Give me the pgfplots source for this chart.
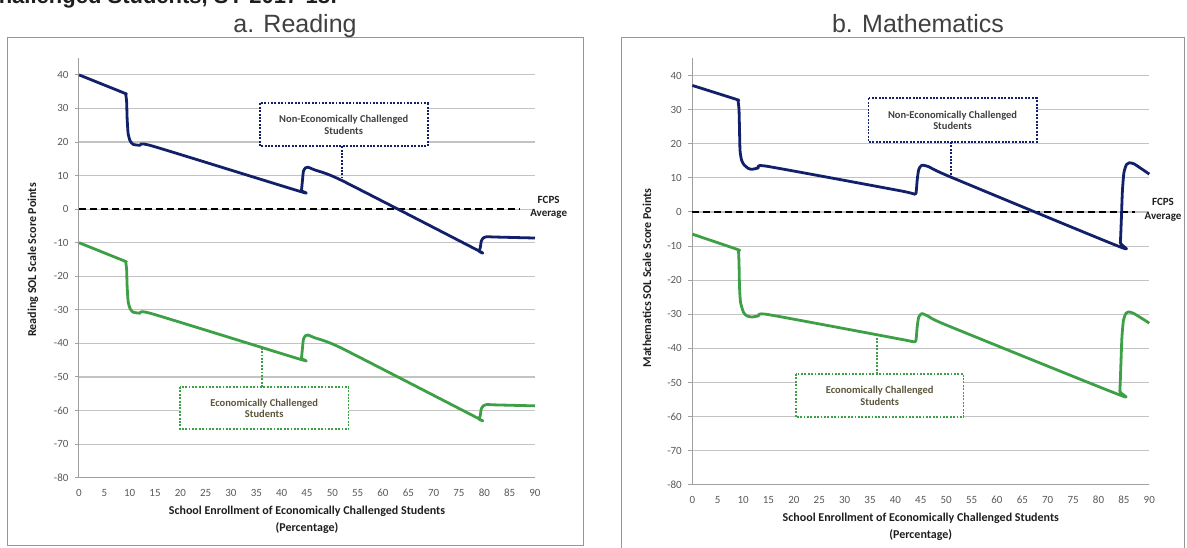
\documentclass[border=0pt]{standalone}
\usepackage{pgfplots}
\pgfplotsset{compat=1.18}
\usepackage{fontspec}
\setmainfont{Carlito}
\newfontfamily\arialf{Liberation Sans}
\definecolor{navyline}{RGB}{18,32,106}
\definecolor{greenline}{RGB}{62,160,70}
\definecolor{tickgray}{RGB}{89,89,89}
\definecolor{gridgray}{RGB}{195,195,195}
\definecolor{axgray}{RGB}{160,160,160}
\definecolor{labdark}{RGB}{30,30,30}
\definecolor{boxtext}{RGB}{64,64,64}
\definecolor{olivetext}{RGB}{92,86,60}
\definecolor{titlegray}{RGB}{64,64,64}
\definecolor{framegray}{RGB}{150,150,150}

\tikzset{dotbox/.style={line width=1.9pt, dash pattern=on 1.9pt off 1.5pt}}

\pgfplotsset{
  panel/.style={
    scale only axis,
    xmin=0, xmax=90, ymin=-80, ymax=45,
    xtick={0,5,...,90},
    ytick={-80,-70,...,40},
    axis x line*=bottom, axis y line*=left,
    axis line style={draw=axgray, line width=1pt},
    ymajorgrids, grid style={draw=gridgray, line width=1.1pt},
    tick align=outside, major tick length=4pt,
    ytick style={draw=axgray, line width=1pt},
    xtick style={draw=none},
    tick label style={font=\fontsize{11}{13}\selectfont, text=tickgray},
    /pgf/number format/assume math mode=true,
    yticklabel style={xshift=-3pt},
    xticklabel style={yshift=-4pt},
    xlabel style={at={(axis description cs:0.5,0)}, anchor=north, yshift=-25pt, align=center,
      font=\fontsize{12}{17}\selectfont\bfseries, text=labdark},
    ylabel style={font=\fontsize{12}{14}\selectfont\bfseries, text=labdark, anchor=center},
    clip=false,
  },
  navyc/.style={color=navyline, line width=2.8pt, smooth, tension=0.35, line join=round, no markers},
  greenc/.style={color=greenline, line width=2.8pt, smooth, tension=0.35, line join=round, no markers},
  zeroline/.style={color=black, line width=2pt, dash pattern=on 7pt off 4pt, no markers},
}

\begin{document}
\begin{tikzpicture}[x=1pt,y=1pt]
\useasboundingbox (0,0) rectangle (1187,548);

% panel frames
\draw[framegray, line width=1pt] (7.3,510) rectangle (583,2);
\draw[framegray, line width=1pt] (621.7,510.3) rectangle (1184.5,-5);

% titles
\node[anchor=base east, font=\arialf\bfseries\fontsize{22}{24}\selectfont, text=labdark] at (341,544) {Challenged Students, SY 2017-18:};
\node[anchor=base, font=\arialf\fontsize{25}{28}\selectfont, text=titlegray] at (295,515) {a. Reading};
\node[anchor=base, font=\arialf\fontsize{25}{28}\selectfont, text=titlegray] at (918,515) {b. Mathematics};

% ---------------- a. Reading ----------------
\begin{axis}[panel, at={(79pt,70.3pt)}, anchor=south west, width=456pt, height=419.6pt,
  xlabel={School Enrollment of Economically Challenged Students\\(Percentage)},
  ylabel={Reading SOL Scale Score Points},
  ylabel style={at={(axis description cs:-0.101,0.519)}},
]
\addplot[zeroline] coordinates {(0,0) (87,0)};
\addplot[navyc] coordinates {
(0,40) (8.9,34.6) (9.2,34.3) (9.4,32) (9.5,27) (9.7,22.5) (10.1,20.3) (10.7,19.3) (12,19.0) (14.5,18.8)
(43.6,5.3) (43.9,5.6) (44.1,8.5) (44.3,11.3) (44.7,12.3) (45.2,12.5) (46.5,11.7) (51.8,8.6)
(78.5,-12.1) (78.9,-12.5) (79.2,-11.5) (79.4,-9.5) (79.8,-8.6) (80.5,-8.2) (82,-8.3) (90,-8.6)};
\addplot[greenc] coordinates {
(0,-10) (8.9,-15.4) (9.2,-15.7) (9.4,-18) (9.5,-23) (9.7,-27.5) (10.1,-29.7) (10.7,-30.7) (12,-31.0) (14.5,-31.2)
(43.6,-44.7) (43.9,-44.4) (44.1,-41.5) (44.3,-38.7) (44.7,-37.7) (45.2,-37.5) (46.5,-38.3) (51.8,-41.4)
(78.5,-62.1) (78.9,-62.5) (79.2,-61.5) (79.4,-59.5) (79.8,-58.6) (80.5,-58.2) (82,-58.3) (90,-58.6)};
% annotation boxes
\draw[navyline, dotbox, fill=white] (axis cs:35.7,31.5) rectangle (axis cs:68.8,18.75);
\draw[navyline, dotbox] (axis cs:51.9,18.75) -- (axis cs:51.9,9.2);
\node[align=center, font=\fontsize{10.5}{11.7}\selectfont\bfseries, text=boxtext] at (axis cs:52.25,25.2) {Non-Economically Challenged\\Students};
\draw[greenline, dotbox, fill=white] (axis cs:19.9,-53) rectangle (axis cs:53.2,-65.6);
\draw[greenline, dotbox] (axis cs:36.2,-53) -- (axis cs:36.2,-41.4);
\node[align=center, font=\fontsize{10.5}{11.7}\selectfont\bfseries, text=olivetext] at (axis cs:36.55,-59.3) {Economically Challenged\\Students};
\node[align=center, font=\fontsize{11}{13.3}\selectfont\bfseries, text=labdark] at (axis cs:92.7,0.5) {FCPS\\Average};
\end{axis}

% ---------------- b. Mathematics ----------------
\begin{axis}[panel, at={(692.3pt,63.2pt)}, anchor=south west, width=457pt, height=426.3pt,
  xlabel={School Enrollment of Economically Challenged Students\\(Percentage)},
  ylabel={Mathematics SOL Scale Score Points},
  ylabel style={at={(axis description cs:-0.099,0.485)}},
]
\addplot[zeroline] coordinates {(0,0) (87.2,0)};
\addplot[navyc] coordinates {
(0,37.1) (8.7,33.0) (9.0,32.6) (9.2,30) (9.3,24) (9.4,18) (9.7,15.2) (10.2,13.8) (11,12.8) (11.7,12.5) (13,12.9) (14.7,13.4)
(41,6.2) (43.8,5.2) (44.1,6) (44.3,9.5) (44.6,12.5) (45.2,13.7) (46.5,13.3) (50.8,10.3)
(84.0,-10.1) (84.3,-9) (84.5,-2) (84.7,6) (85.0,11.5) (85.5,13.9) (86.0,14.4) (87,14.1) (90,11.1)};
\addplot[greenc] coordinates {
(0,-6.5) (8.9,-11.0) (9.1,-11.5) (9.2,-15) (9.3,-22) (9.5,-26.5) (10.1,-29.5) (10.8,-30.5) (11.7,-30.8) (13,-30.5) (15,-30.1)
(41,-37.3) (43.8,-38.1) (44.1,-37) (44.3,-33.5) (44.6,-30.8) (45.2,-29.8) (46.5,-30.6) (50.1,-33.2)
(83.9,-53.5) (84.2,-52.5) (84.4,-45) (84.6,-37) (84.9,-31.8) (85.4,-29.7) (85.9,-29.3) (87,-29.8) (90,-32.6)};
\draw[navyline, dotbox, fill=white] (axis cs:34.7,33.3) rectangle (axis cs:67.8,20.5);
\draw[navyline, dotbox] (axis cs:50.9,20.5) -- (axis cs:50.9,10.8);
\node[align=center, font=\fontsize{10.5}{11.7}\selectfont\bfseries, text=boxtext] at (axis cs:51.25,26.9) {Non-Economically Challenged\\Students};
\draw[greenline, dotbox, fill=white] (axis cs:20.4,-47.5) rectangle (axis cs:53.4,-60.2);
\draw[greenline, dotbox] (axis cs:36.3,-47.5) -- (axis cs:36.3,-36.7);
\node[align=center, font=\fontsize{10.5}{11.7}\selectfont\bfseries, text=olivetext] at (axis cs:36.9,-53.85) {Economically Challenged\\Students};
\node[align=center, font=\fontsize{11}{13.3}\selectfont\bfseries, text=labdark] at (axis cs:92.7,0.6) {FCPS\\Average};
\end{axis}
\end{tikzpicture}
\end{document}
